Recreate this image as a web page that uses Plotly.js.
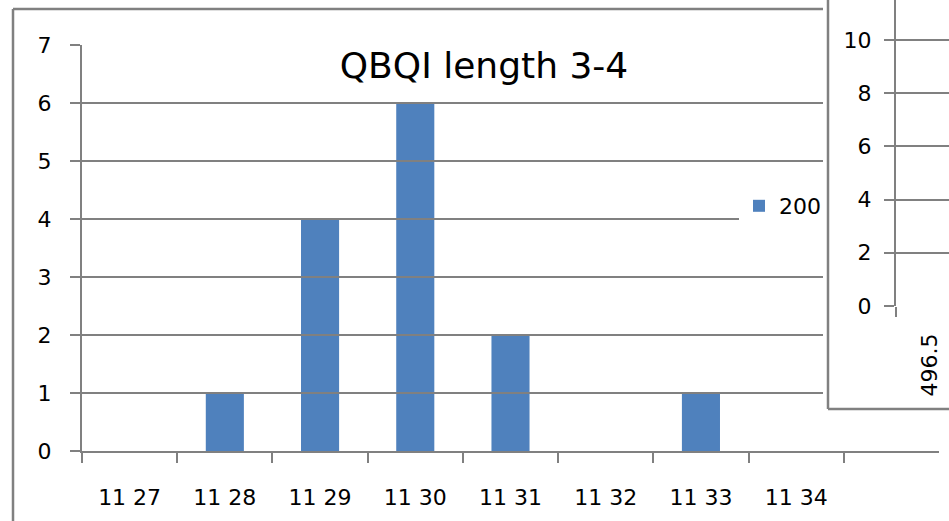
<!DOCTYPE html>
<html>
<head>
<meta charset="utf-8">
<script src="https://cdn.plot.ly/plotly-3.0.1.min.js"></script>
<style>html,body{margin:0;padding:0;background:#fff;overflow:hidden}#chart{width:949px;height:521px}</style>
</head>
<body>
<div id="chart"></div>
<script>
// ---- data ----
const categories = ["11 27", "11 28", "11 29", "11 30", "11 31", "11 32", "11 33", "11 34"];
const counts = [0, 1, 4, 6, 2, 0, 1, 0];
const seriesName = "200";
const chartTitle = "QBQI length 3-4";
const yTicks = [0, 1, 2, 3, 4, 5, 6, 7];
const insetCategories = ["496.5"];
const insetTicks = [0, 2, 4, 6, 8, 10];

// ---- layout helpers ----
const W = 949, H = 521;
const px = x => x / W;
const py = y => 1 - y / H;
const GRID = "#808080";
const FONT = "DejaVu Sans, sans-serif";

const trace = {
  type: "bar",
  x: categories,
  y: counts,
  name: seriesName,
  marker: {color: "#4F81BD", line: {width: 0}},
  xaxis: "x", yaxis: "y",
  showlegend: true
};

// empty carrier so the gridline subplot (x3/y3) gets built; it has no marks
const gridCarrier = {type: "scatter", mode: "none", x: [], y: [], xaxis: "x3", yaxis: "y3",
                     showlegend: false, hoverinfo: "skip"};

// inset series carries no visible marks, keeps its category axis
const insetTrace = {type: "bar", x: insetCategories, y: [0], xaxis: "x2", yaxis: "y2",
                    marker: {color: "#4F81BD"}, showlegend: false, hoverinfo: "skip"};

const layout = {
  width: W, height: H,
  margin: {l: 0, r: 0, t: 0, b: 0, pad: 0},
  paper_bgcolor: "#fff", plot_bgcolor: "rgba(0,0,0,0)",
  font: {family: FONT, size: 22, color: "#000"},
  bargap: 0.6,
  title: {text: chartTitle, x: px(484), xanchor: "center", y: py(65), yanchor: "middle",
          font: {family: FONT, size: 36, color: "#000"}},
  showlegend: true,
  legend: {x: px(739), xanchor: "left", y: py(206), yanchor: "middle",
           bgcolor: "#fff", borderwidth: 0, font: {family: FONT, size: 22, color: "#000"}},
  xaxis: {
    domain: [px(82), px(939)], anchor: "y", type: "category",
    range: [-0.5, 8.5], fixedrange: true,
    showgrid: false, zeroline: false,
    showline: true, linecolor: GRID, linewidth: 2,
    ticks: "outside", tickson: "boundaries", ticklen: 10, tickwidth: 2, tickcolor: GRID,
    ticklabelstandoff: 26, tickfont: {family: FONT, size: 22, color: "#000"}
  },
  yaxis: {
    domain: [py(451), py(45)], anchor: "x", range: [0, 7],
    tickvals: yTicks, ticktext: yTicks.map(String),
    showgrid: false, zeroline: false,
    showline: true, linecolor: GRID, linewidth: 2,
    ticks: "outside", ticklen: 10, tickwidth: 2, tickcolor: GRID,
    ticklabelstandoff: 14, tickfont: {family: FONT, size: 22, color: "#000"}
  },
  // gridline carrier for main chart (grid stops before the inset)
  xaxis3: {domain: [px(82), px(823)], anchor: "y3", range: [0, 1], visible: false, showgrid: false, fixedrange: true},
  yaxis3: {domain: [py(451), py(45)], anchor: "x3", range: [0, 7],
           tickvals: yTicks.slice(1), showticklabels: false, ticks: "",
           showgrid: true, gridcolor: GRID, gridwidth: 2, zeroline: false, showline: false},
  // inset chart
  xaxis2: {
    domain: [px(896), 1], anchor: "y2", type: "category",
    range: [-0.5, 0.28], fixedrange: true,
    showgrid: false, zeroline: false, showline: false,
    ticks: "outside", tickson: "boundaries", ticklen: 10, tickwidth: 2, tickcolor: GRID,
    tickangle: -90, ticklabelstandoff: 22, tickfont: {family: FONT, size: 22, color: "#000"}
  },
  yaxis2: {
    domain: [py(306), 1], anchor: "x2", range: [0, 11.5],
    tickvals: insetTicks, ticktext: insetTicks.map(String),
    showgrid: true, gridcolor: GRID, gridwidth: 2, zeroline: false,
    showline: true, linecolor: GRID, linewidth: 2,
    ticks: "outside", ticklen: 10, tickwidth: 2, tickcolor: GRID,
    ticklabelstandoff: 8, tickfont: {family: FONT, size: 22, color: "#000"}
  },
  shapes: [
    // main chart area frame
    {type: "line", xref: "paper", yref: "paper", x0: px(13), x1: px(13), y0: py(9), y1: py(530), line: {color: GRID, width: 2.5}},
    {type: "line", xref: "paper", yref: "paper", x0: px(13), x1: px(823), y0: py(9), y1: py(9), line: {color: GRID, width: 2.5}},
    // inset chart frame
    {type: "line", xref: "paper", yref: "paper", x0: px(828), x1: px(828), y0: py(-5), y1: py(409), line: {color: GRID, width: 2.5}},
    {type: "line", xref: "paper", yref: "paper", x0: px(828), x1: px(960), y0: py(409), y1: py(409), line: {color: GRID, width: 2.5}}
  ]
};

Plotly.newPlot("chart", [trace, gridCarrier, insetTrace], layout, {staticPlot: true, displayModeBar: false});
</script>
</body>
</html>
